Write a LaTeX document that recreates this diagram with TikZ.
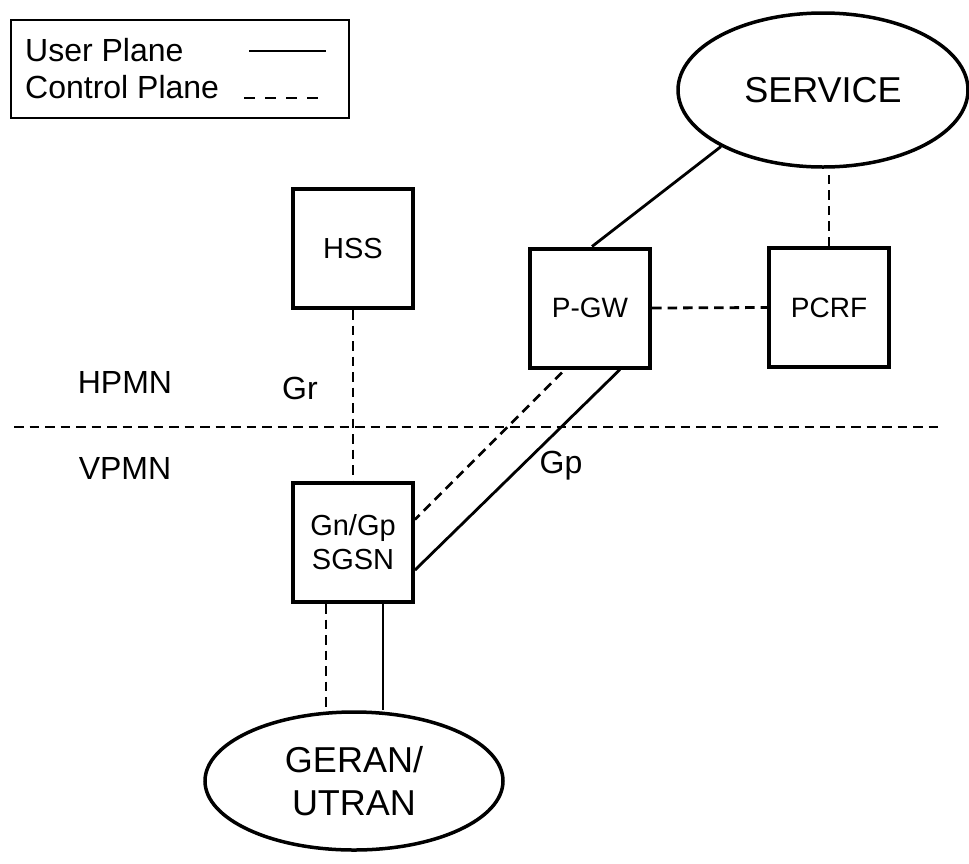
\documentclass[tikz,border=0pt]{standalone}
\usepackage{fontspec}
\setmainfont{Liberation Sans}
\usetikzlibrary{shapes.geometric}
\begin{document}
\begin{tikzpicture}[x=1pt,y=-1pt,
  netbox/.style={draw, line width=4pt, minimum width=120pt, minimum height=119pt,
    inner sep=0pt, font=\fontsize{29}{34}\selectfont, align=center},
  cloud/.style={draw, ellipse, line width=3.5pt, inner sep=0pt,
    font=\fontsize{36}{43}\selectfont, align=center},
  user/.style={line width=2.8pt},
  ctrl/.style={line width=2.8pt, dash pattern=on 9.5pt off 6pt},
  lbl/.style={font=\fontsize{32}{38}\selectfont, inner sep=0pt},
  legtext/.style={font=\fontsize{32}{38}\selectfont, inner sep=0pt, anchor=west},
]
\useasboundingbox (0,0) rectangle (969,863);

% legend
\node[draw, line width=1.8pt, minimum width=338pt, minimum height=98pt,
  inner sep=0pt, anchor=north west] (legend) at (10,19) {};
\node[legtext] (lu) at (25,50) {User Plane};
\node[legtext] (lc) at (25,87) {Control Plane};
\coordinate (lua) at (249,51); \coordinate (lub) at (326,51);
\coordinate (lca) at (244,98); \coordinate (lcb) at (326,98);
\draw[user] (lua) -- (lub);
\draw[line width=2.8pt, dash pattern=on 11pt off 10pt] (lca) -- (lcb);

% network elements
\node[cloud, minimum width=290pt, minimum height=154pt] (service) at (823,90) {SERVICE};
\node[netbox] (hss) at (353,248.5) {HSS};
\node[netbox, font=\fontsize{28}{34}\selectfont] (pgw) at (590,308) {P-GW};
\node[netbox, font=\fontsize{28}{34}\selectfont] (pcrf) at (829,307.5) {PCRF};
\node[netbox] (sgsn) at (353,542.5) {Gn/Gp\\SGSN};
\node[cloud, minimum width=298pt, minimum height=138pt] (geran) at (354,781) {GERAN/\\UTRAN};

% network border
\coordinate (bl) at (14,427); \coordinate (br) at (940,427);
\draw[ctrl] (bl) -- (br);
\node[lbl] (hpmn) at (125,382) {HPMN};
\node[lbl] (vpmn) at (125,468) {VPMN};
\node[lbl] (gr) at (300,388) {Gr};
\node[lbl] (gp) at (561,466) {Gp};

% interfaces
\draw[user] (service.209) -- ([xshift=2pt]pgw.north);
\draw[ctrl] (pcrf.north) -- (pcrf.north |- service.south);
\draw[ctrl] (pgw.east) -- (pcrf.west);
\draw[ctrl] (hss.south) -- (sgsn.north);
\draw[ctrl] ([xshift=-28pt,yshift=-3pt]pgw.south) -- ([yshift=23pt]sgsn.east);
\draw[user] ([xshift=30pt]pgw.south) -- ([yshift=-27.5pt]sgsn.east);
\draw[ctrl] ([xshift=-27pt]sgsn.south) -- ([xshift=-27pt]sgsn.south |- geran.north);
\draw[user] ([xshift=30pt]sgsn.south) -- ([xshift=30pt]sgsn.south |- geran.north);
\end{tikzpicture}
\end{document}
